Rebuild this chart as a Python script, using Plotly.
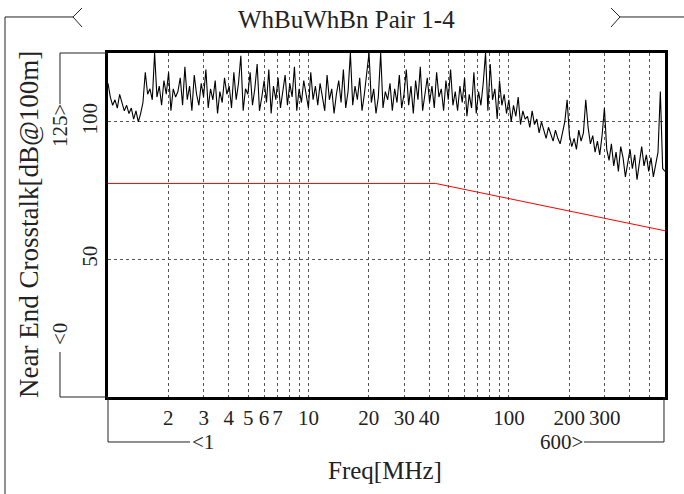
import numpy as np
import plotly.graph_objects as go

# ── Datos ──────────────────────────────────────────────────────────────────────
TITULO = "WhBuWhBn Pair 1-4"
Y_TITULO = "Near End Crosstalk[dB@100m]"
X_TITULO = "Freq[MHz]"

F_MIN, F_MAX = 1, 600

# NEXT medido (dB), barrido logarítmico de 1 a 600 MHz
NEXT_DB = [
    114, 109, 106, 108, 105, 110, 107, 104, 106, 103, 105, 101, 104, 100, 103,
    107, 118, 110, 112, 108, 125, 109, 113, 106, 115, 110, 118, 104, 112, 109,
    111, 116, 106, 120, 108, 113, 104, 117, 110, 106, 114, 109, 119, 105, 112,
    108, 115, 103, 111, 107, 116, 110, 113, 105, 118, 108, 114, 124, 104, 112,
    110, 118, 106, 112, 121, 104, 109, 115, 107, 119, 103, 113, 108, 116, 105,
    111, 117, 106, 114, 109, 120, 104, 112, 107, 115, 110, 105, 118, 108, 113,
    106, 114, 109, 104, 117, 108, 112, 103, 110, 115, 107, 119, 105, 111, 125,
    106, 113, 108, 116, 104, 110, 118, 125, 107, 112, 103, 109, 125, 105, 111,
    108, 114, 104, 112, 107, 117, 105, 110, 119, 106, 113, 103, 115, 108, 120,
    104, 111, 116, 107, 113, 105, 118, 109, 112, 104, 115, 108, 119, 106, 111,
    104, 113, 107, 116, 102, 110, 105, 118, 103, 111, 106, 114, 125, 104, 121,
    108, 112, 101, 115, 106, 110, 103, 108, 100, 106, 102, 109, 99, 104, 101,
    102, 98, 104, 99, 101, 96, 100, 97, 94, 98, 95, 93, 97, 94, 92,
    96, 100, 108, 95, 91, 94, 90, 97, 93, 96, 108, 98, 92, 95, 89,
    93, 88, 95, 105, 90, 86, 92, 84, 89, 82, 91, 87, 80, 85, 90,
    83, 88, 79, 86, 91, 84, 88, 82, 87, 80, 85, 89, 111, 83, 82,
]

# Límite (rojo)
LIMITE_F = [1, 43, 600]
LIMITE_DB = [77.6, 77.6, 60.4]

# Rejilla y etiquetas
X_GRID = [2, 3, 4, 5, 6, 7, 8, 9, 10, 20, 30, 40, 50, 60, 70, 80, 90,
          100, 200, 300, 400, 500]
X_LABELS = {2: "2", 3: "3", 4: "4", 5: "5", 6: "6", 7: "7", 10: "10", 20: "20",
            30: "30", 40: "40", 100: "100", 200: "200", 300: "300"}
Y_TICKS = [50, 100]

# ── Estilos ────────────────────────────────────────────────────────────────────
FUENTE = "Liberation Serif, serif"
W, H = 684, 494
L, R, T, B = 108, 19, 53, 97
PW, PH = W - L - R, H - T - B
GRID = dict(showgrid=True, gridcolor="#555", griddash="3px,3px", gridwidth=1)


def _p(x, y):
    """Pixel de la página -> coordenadas paper."""
    return (x - L) / PW, (H - B - y) / PH


def _linea(puntos):
    d = ""
    for i, (x, y) in enumerate(puntos):
        px, py = _p(x, y)
        d += ("M" if i == 0 else "L") + f"{px:.4f},{py:.4f} "
    return dict(type="path", xref="paper", yref="paper", path=d.strip(),
                line=dict(color="#222", width=1))


def _texto(x, y, txt, size=21, angle=0, xanchor="center"):
    px, py = _p(x, y)
    return dict(x=px, y=py, xref="paper", yref="paper", text=txt, showarrow=False,
                textangle=angle, xanchor=xanchor, yanchor="middle",
                font=dict(family=FUENTE, size=size, color="#222"))


frecs = np.geomspace(F_MIN, F_MAX, len(NEXT_DB))

fig = go.Figure()
fig.add_trace(go.Scatter(x=frecs, y=NEXT_DB, mode="lines",
                         line=dict(color="black", width=1.1), showlegend=False))
fig.add_trace(go.Scatter(x=LIMITE_F, y=LIMITE_DB, mode="lines",
                         line=dict(color="red", width=1), showlegend=False))

formas = [
    _linea([(5, 494), (5, 17), (73, 17)]),
    _linea([(82, 8), (73, 17), (82, 27)]),
    _linea([(611, 8), (620, 17), (611, 27)]),
    _linea([(620, 17), (684, 17)]),
    _linea([(108, 53), (60, 53), (60, 104)]),
    _linea([(60, 352), (60, 397), (108, 397)]),
    _linea([(108, 397), (108, 442), (190, 442)]),
    _linea([(584, 442), (664, 442), (664, 397)]),
]

anotaciones = [
    _texto(346, 19, TITULO, size=25),
    _texto(29, 225, Y_TITULO, size=27, angle=-90),
    _texto(385, 470, X_TITULO, size=25),
    _texto(60, 126, "125>", angle=-90),
    _texto(60, 334, "<0", angle=-90),
    _texto(190, 442, "<1", xanchor="left"),
    _texto(585, 442, "600>", xanchor="right"),
]

fig.update_layout(
    width=W, height=H,
    margin=dict(l=L, r=R, t=T, b=B),
    paper_bgcolor="white", plot_bgcolor="white",
    font=dict(family=FUENTE, size=21, color="#222"),
    shapes=formas,
    annotations=anotaciones,
    xaxis=dict(
        type="log", range=[np.log10(F_MIN), np.log10(F_MAX)],
        tickvals=X_GRID, ticktext=[X_LABELS.get(v, "") for v in X_GRID],
        ticks="", ticklabelstandoff=0, zeroline=False,
        showline=True, mirror=True, linecolor="black", linewidth=2.5,
        **GRID,
    ),
    yaxis=dict(
        range=[0, 125], tickvals=Y_TICKS, tickangle=-90,
        ticks="", zeroline=False,
        showline=True, mirror=True, linecolor="black", linewidth=2.5,
        **GRID,
    ),
)

# sin margen del body, para que la figura quede en (0, 0) de la ventana
fig.write_html("out.html", config={"displayModeBar": False},
               post_script="document.body.style.margin='0';")
